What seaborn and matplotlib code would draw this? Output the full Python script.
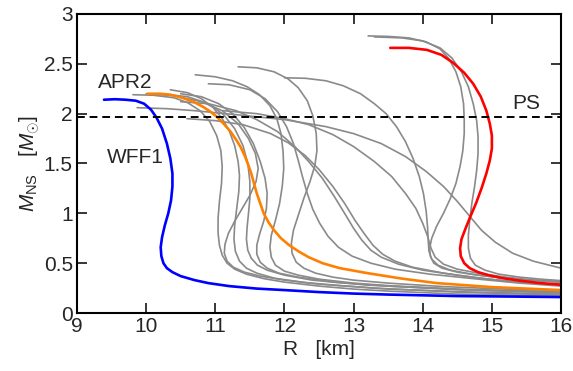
import matplotlib
matplotlib.use("Agg")
import matplotlib.pyplot as plt
import seaborn as sns
import pandas as pd

# ---------------- data ----------------
# Named equations of state
R_WFF1 = [9.39, 9.55, 9.7, 9.85, 9.97, 10.07, 10.15, 10.23, 10.3, 10.35, 10.38, 10.38, 10.36, 10.32, 10.27, 10.23,
          10.21, 10.22, 10.25, 10.3, 10.38, 10.5, 10.7, 10.9, 11.2, 11.6, 12.0, 12.5, 13.0, 13.5, 14.5, 15.3, 16.0]
M_WFF1 = [2.14, 2.145, 2.14, 2.13, 2.10, 2.04, 1.96, 1.85, 1.7, 1.55, 1.4, 1.27, 1.13, 1.0, 0.88, 0.76,
          0.66, 0.57, 0.5, 0.45, 0.41, 0.37, 0.33, 0.30, 0.27, 0.245, 0.23, 0.21, 0.195, 0.185, 0.17, 0.165, 0.16]

R_APR2 = [10.02, 10.2, 10.35, 10.52, 10.68, 10.82, 10.93, 11.02, 11.12, 11.22, 11.3, 11.37, 11.43, 11.48, 11.52,
          11.56, 11.6, 11.65, 11.7, 11.77, 11.85, 11.95, 12.07, 12.2, 12.35, 12.55, 12.8, 13.2, 13.7, 14.2,
          14.6, 15.0, 15.5, 16.0]
M_APR2 = [2.20, 2.20, 2.19, 2.16, 2.12, 2.07, 2.02, 1.97, 1.9, 1.82, 1.74, 1.66, 1.57, 1.48, 1.4,
          1.3, 1.2, 1.1, 1.0, 0.91, 0.83, 0.75, 0.68, 0.62, 0.56, 0.50, 0.45, 0.40, 0.345, 0.30,
          0.28, 0.26, 0.245, 0.23]

R_PS = [13.53, 13.8, 14.06, 14.27, 14.44, 14.6, 14.73, 14.84, 14.92, 14.97, 15.0, 15.0, 14.97, 14.92, 14.85,
        14.77, 14.69, 14.62, 14.56, 14.54, 14.55, 14.6, 14.68, 14.8, 14.95, 15.15, 15.4, 15.7, 16.0]
M_PS = [2.66, 2.66, 2.64, 2.59, 2.51, 2.41, 2.30, 2.17, 2.03, 1.9, 1.78, 1.65, 1.53, 1.4, 1.25,
        1.1, 0.97, 0.85, 0.74, 0.65, 0.57, 0.50, 0.45, 0.41, 0.38, 0.35, 0.325, 0.30, 0.285]

# Other equations of state (grey)
g01_R = [9.81, 10.1, 10.4, 10.6, 10.78, 10.92, 11.02, 11.08, 11.1, 11.09, 11.06, 11.04, 11.04, 11.06, 11.1,
         11.17, 11.28, 11.45, 11.7, 12.0, 12.5, 13.0, 13.5, 14.5, 15.3, 16.0]
g01_M = [2.19, 2.185, 2.16, 2.11, 2.03, 1.92, 1.78, 1.63, 1.47, 1.30, 1.12, 0.95, 0.8, 0.68, 0.58,
         0.50, 0.44, 0.39, 0.345, 0.31, 0.27, 0.24, 0.22, 0.19, 0.18, 0.17]
g02_R = [10.35, 10.6, 10.8, 10.97, 11.1, 11.2, 11.28, 11.33, 11.35, 11.34, 11.31, 11.28, 11.27, 11.29, 11.35,
         11.45, 11.6, 11.85, 12.3, 12.8, 13.3, 14.5, 16.0]
g02_M = [2.24, 2.21, 2.15, 2.06, 1.95, 1.83, 1.68, 1.52, 1.38, 1.22, 1.05, 0.88, 0.74, 0.62, 0.52,
         0.45, 0.40, 0.35, 0.305, 0.275, 0.25, 0.21, 0.18]
g03_R = [10.71, 11.0, 11.25, 11.46, 11.64, 11.79, 11.89, 11.95, 11.98, 11.99, 11.97, 11.93, 11.87, 11.81, 11.79,
         11.81, 11.87, 12.0, 12.2, 12.5, 13.0, 13.5, 14.5, 15.3, 16.0]
g03_M = [2.39, 2.37, 2.33, 2.27, 2.19, 2.08, 1.95, 1.80, 1.62, 1.45, 1.28, 1.1, 0.93, 0.78, 0.66,
         0.56, 0.48, 0.42, 0.38, 0.34, 0.30, 0.275, 0.24, 0.225, 0.21]
g04_R = [11.33, 11.6, 11.85, 12.05, 12.2, 12.33, 12.41, 12.46, 12.47, 12.44, 12.37, 12.28, 12.2, 12.13, 12.1,
         12.11, 12.17, 12.28, 12.45, 12.7, 13.0, 13.5, 14.3, 15.2, 16.0]
g04_M = [2.47, 2.46, 2.42, 2.35, 2.26, 2.13, 1.98, 1.80, 1.63, 1.48, 1.32, 1.15, 0.98, 0.83, 0.7,
         0.6, 0.51, 0.45, 0.40, 0.36, 0.33, 0.30, 0.265, 0.24, 0.225]
g05_R = [12.0, 12.3, 12.6, 12.85, 13.1, 13.3, 13.47, 13.62, 13.75, 13.86, 13.95, 14.01, 14.05, 14.07, 14.08,
         14.09, 14.13, 14.22, 14.4, 14.7, 15.1, 15.5, 16.0]
g05_M = [2.36, 2.355, 2.33, 2.28, 2.2, 2.1, 2.0, 1.87, 1.72, 1.55, 1.37, 1.2, 1.02, 0.86, 0.72,
         0.62, 0.54, 0.48, 0.43, 0.39, 0.355, 0.33, 0.31]
g06_R = [13.21, 13.5, 13.8, 14.05, 14.25, 14.38, 14.48, 14.55, 14.59, 14.6, 14.6, 14.58, 14.54, 14.48, 14.4,
         14.3, 14.2, 14.13, 14.1, 14.11, 14.16, 14.28, 14.5, 14.8, 15.2, 15.6, 16.0]
g06_M = [2.78, 2.775, 2.76, 2.72, 2.65, 2.55, 2.42, 2.27, 2.1, 1.95, 1.8, 1.63, 1.47, 1.3, 1.15,
         1.0, 0.87, 0.75, 0.65, 0.57, 0.50, 0.45, 0.41, 0.38, 0.35, 0.33, 0.315]
g07_R = [13.3, 13.7, 14.0, 14.25, 14.42, 14.56, 14.66, 14.73, 14.78, 14.8, 14.8, 14.78, 14.75, 14.71, 14.68,
         14.66, 14.66, 14.69, 14.76, 14.9, 15.1, 15.4, 15.7, 16.0]
g07_M = [2.77, 2.76, 2.73, 2.66, 2.56, 2.42, 2.27, 2.1, 1.93, 1.77, 1.6, 1.43, 1.27, 1.1, 0.93,
         0.78, 0.65, 0.55, 0.48, 0.43, 0.39, 0.36, 0.34, 0.325]
g08_R = [9.87, 10.3, 10.7, 11.3, 12.0, 12.6, 13.0, 13.4, 13.75, 14.05, 14.3, 14.5, 14.68, 14.85, 15.05,
         15.3, 15.6, 16.0]
g08_M = [2.06, 2.05, 2.03, 1.99, 1.94, 1.87, 1.8, 1.70, 1.57, 1.42, 1.27, 1.12, 0.97, 0.83, 0.71,
         0.6, 0.52, 0.45]
g09_R = [11.11, 11.6, 12.0, 12.35, 12.7, 13.0, 13.3, 13.55, 13.75, 13.9, 14.0, 14.07, 14.12, 14.18, 14.3,
         14.5, 14.8, 15.2, 15.6, 16.0]
g09_M = [2.03, 2.0, 1.95, 1.89, 1.79, 1.67, 1.52, 1.37, 1.2, 1.05, 0.9, 0.77, 0.65, 0.56, 0.49,
         0.44, 0.40, 0.36, 0.33, 0.31]
g10_R = [10.59, 11.0, 11.4, 11.8, 12.05, 12.3, 12.5, 12.7, 12.87, 13.02, 13.15, 13.28, 13.42, 13.6, 13.85,
         14.3, 14.8, 15.4, 16.0]
g10_M = [1.95, 1.93, 1.89, 1.8, 1.71, 1.58, 1.44, 1.27, 1.1, 0.93, 0.8, 0.68, 0.59, 0.52, 0.46,
         0.40, 0.35, 0.31, 0.28]
g11_R = [10.5, 10.9, 11.3, 11.6, 11.9, 12.15, 12.35, 12.55, 12.72, 12.87, 13.0, 13.12, 13.25, 13.4, 13.65,
         14.0, 14.5, 15.2, 16.0]
g11_M = [2.12, 2.1, 2.03, 1.94, 1.82, 1.67, 1.52, 1.35, 1.17, 1.0, 0.85, 0.73, 0.63, 0.56, 0.49,
         0.43, 0.38, 0.32, 0.28]
g12_R = [10.0, 10.4, 10.8, 11.1, 11.33, 11.48, 11.58, 11.62, 11.59, 11.5, 11.39, 11.28, 11.19, 11.14, 11.13,
         11.17, 11.26, 11.42, 11.65, 12.0, 12.5, 13.5, 14.7, 16.0]
g12_M = [2.2, 2.18, 2.12, 2.03, 1.9, 1.75, 1.6, 1.45, 1.32, 1.18, 1.05, 0.92, 0.8, 0.69, 0.6,
         0.52, 0.46, 0.41, 0.37, 0.33, 0.29, 0.24, 0.21, 0.19]
g13_R = [10.2, 10.6, 10.9, 11.12, 11.28, 11.4, 11.47, 11.5, 11.5, 11.48, 11.46, 11.45, 11.47, 11.52, 11.61,
         11.75, 12.0, 12.4, 13.2, 14.5, 16.0]
g13_M = [2.2, 2.17, 2.1, 1.99, 1.85, 1.68, 1.5, 1.32, 1.15, 1.0, 0.86, 0.74, 0.63, 0.55, 0.48,
         0.43, 0.38, 0.33, 0.28, 0.235, 0.20]
g14_R = [10.5, 10.8, 11.05, 11.25, 11.42, 11.55, 11.65, 11.72, 11.75, 11.74, 11.7, 11.64, 11.6, 11.6, 11.65,
         11.75, 11.92, 12.2, 12.7, 13.5, 14.7, 16.0]
g14_M = [2.2, 2.17, 2.1, 2.0, 1.86, 1.7, 1.52, 1.35, 1.2, 1.05, 0.92, 0.79, 0.68, 0.59, 0.51,
         0.45, 0.40, 0.36, 0.31, 0.27, 0.23, 0.21]
g15_R = [10.9, 11.2, 11.5, 11.72, 11.9, 12.03, 12.13, 12.2, 12.26, 12.33, 12.41, 12.51, 12.63, 12.78, 12.98,
         13.25, 13.6, 14.1, 14.8, 15.4, 16.0]
g15_M = [2.3, 2.29, 2.24, 2.15, 2.02, 1.87, 1.7, 1.53, 1.37, 1.2, 1.04, 0.9, 0.77, 0.66, 0.57,
         0.5, 0.44, 0.39, 0.34, 0.30, 0.27]

grey_R = [g01_R, g02_R, g03_R, g04_R, g05_R, g06_R, g07_R, g08_R,
          g09_R, g10_R, g11_R, g12_R, g13_R, g14_R, g15_R]
grey_M = [g01_M, g02_M, g03_M, g04_M, g05_M, g06_M, g07_M, g08_M,
          g09_M, g10_M, g11_M, g12_M, g13_M, g14_M, g15_M]

M_obs = 1.97  # dashed reference mass

x_ticks = [9, 10, 11, 12, 13, 14, 15, 16]
y_ticks = [0, 0.5, 1, 1.5, 2, 2.5, 3]
y_ticklabels = ["0", "0.5", "1", "1.5", "2", "2.5", "3"]

# ---------------- plot ----------------
sns.set_theme(style="ticks")
plt.rcParams["font.family"] = ["Liberation Sans", "DejaVu Sans"]
plt.rcParams["mathtext.fontset"] = "custom"
plt.rcParams["mathtext.rm"] = "Liberation Sans"
plt.rcParams["mathtext.it"] = "Liberation Sans:italic"

fig = plt.figure(figsize=(5.73, 3.71), dpi=100)
ax = fig.add_axes([0.1344, 0.1563, 0.8447, 0.806])

for r, m in zip(grey_R, grey_M):
    df = pd.DataFrame({"R": r, "M": m})
    sns.lineplot(data=df, x="R", y="M", sort=False, estimator=None,
                 color="#8a8a8a", lw=1.2, ax=ax)

for r, m, c in [(R_WFF1, M_WFF1, "#0000ff"),
                (R_APR2, M_APR2, "#ff8000"),
                (R_PS, M_PS, "#ff0000")]:
    df = pd.DataFrame({"R": r, "M": m})
    sns.lineplot(data=df, x="R", y="M", sort=False, estimator=None,
                 color=c, lw=1.9, ax=ax)

ax.axhline(M_obs, color="black", lw=1.4, ls=(0, (4, 2.5)))

ax.text(9.7, 2.31, "APR2", fontsize=15, ha="center", va="center")
ax.text(9.85, 1.56, "WFF1", fontsize=15, ha="center", va="center")
ax.text(15.5, 2.1, "PS", fontsize=15, ha="center", va="center")

ax.set_xlim(9, 16)
ax.set_ylim(0, 3)
ax.set_xticks(x_ticks)
ax.set_yticks(y_ticks)
ax.set_yticklabels(y_ticklabels)
ax.tick_params(direction="in", length=7, width=1.3, labelsize=15,
               top=True, right=True, pad=3)
for s in ax.spines.values():
    s.set_linewidth(1.5)
    s.set_color("black")

ax.set_xlabel("R   [km]", fontsize=15, labelpad=3)
ax.set_ylabel(r"$M_{\rm NS}$   [$M_{\odot}$]", fontsize=15, labelpad=1)

fig.savefig("out.png", dpi=100)
